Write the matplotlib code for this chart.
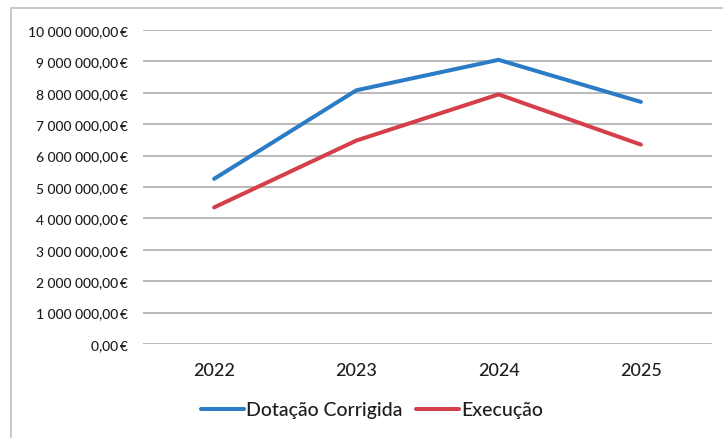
import matplotlib
matplotlib.use('Agg')
import matplotlib.pyplot as plt
from matplotlib.patches import Rectangle
from matplotlib.ticker import FuncFormatter, MultipleLocator

years = ['2022', '2023', '2024', '2025']
dotacao_corrigida = [5260000, 8080000, 9050000, 7710000]
execucao = [4350000, 6480000, 7950000, 6350000]

BLUE = '#2B7CC6'
RED = '#D43F4A'
GRID = '#A6A6A6'
TEXT = '#1E1E1E'

plt.rcParams['font.family'] = ['Lato', 'DejaVu Sans']
plt.rcParams['font.weight'] = 500


def euro(value, _pos):
    whole = f'{value:,.2f}'.replace(',', ' ').replace('.', ',')
    return f'{whole}\u2009€'


figure = plt.figure(figsize=(7.23, 4.39), dpi=100)
width_px, height_px = 723, 439

# chart frame, partly cut off by the scan at the right and bottom
figure.patches.append(Rectangle((11 / width_px, -0.05), 1.2, 1 - 9 / height_px + 0.05,
                                transform=figure.transFigure, fill=False,
                                edgecolor='#BFBFBF', linewidth=1.2))

axis = figure.add_axes([143 / width_px, 1 - 345 / height_px,
                        (712 - 143) / width_px, (345 - 31) / height_px])

positions = range(len(years))
axis.plot(positions, dotacao_corrigida, color=BLUE, linewidth=2.9,
          solid_capstyle='round', label='Dotação Corrigida')
axis.plot(positions, execucao, color=RED, linewidth=2.9,
          solid_capstyle='round', label='Execução')

axis.set_xlim(-0.5, len(years) - 0.5)
axis.set_ylim(0, 10000000)
axis.yaxis.set_major_locator(MultipleLocator(1000000))
axis.yaxis.set_major_formatter(FuncFormatter(euro))
axis.set_xticks(list(positions))
axis.set_xticklabels(years)

axis.grid(axis='y', color=GRID, linewidth=1.1)
axis.set_axisbelow(True)
for spine in axis.spines.values():
    spine.set_visible(False)
axis.tick_params(axis='y', length=0, pad=11, labelsize=10, labelcolor=TEXT)
axis.tick_params(axis='x', length=0, pad=13, labelsize=13, labelcolor=TEXT)

legend = figure.legend(loc='center', bbox_to_anchor=(372 / width_px, 1 - 411 / height_px),
                       ncol=2, frameon=False, fontsize=14, handlelength=2.2,
                       handletextpad=0.1, columnspacing=0.7)
for text in legend.get_texts():
    text.set_color(TEXT)

figure.savefig('out.png', dpi=100)
plt.close(figure)
